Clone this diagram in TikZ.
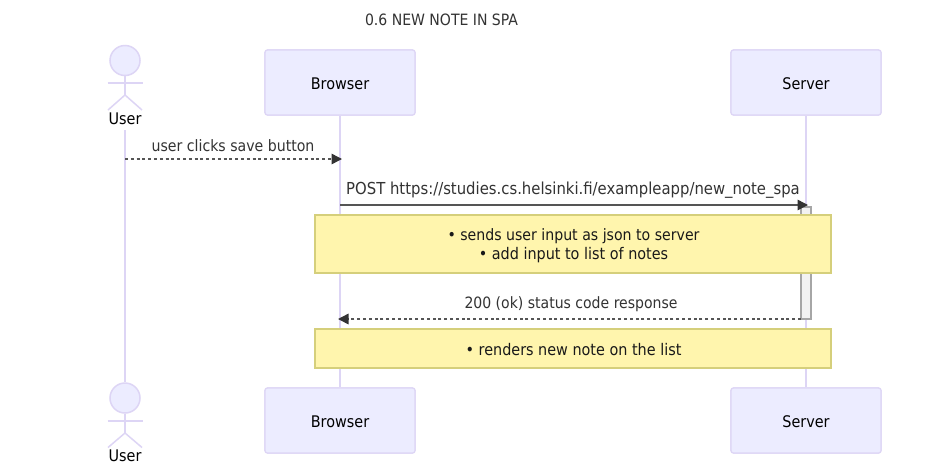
\documentclass[tikz,border=0pt]{standalone}
\usepackage{fontspec}
\setmainfont{DejaVu Sans Condensed}
\usetikzlibrary{arrows.meta}

\definecolor{actorfill}{HTML}{ECECFF}
\definecolor{actorline}{HTML}{DDD5F5}
\definecolor{notefill}{HTML}{FFF5AD}
\definecolor{noteline}{HTML}{D5CF7B}
\definecolor{msgtext}{HTML}{333333}
\definecolor{msgline}{HTML}{555555}

\tikzset{
    actorbox/.style={draw=actorline, fill=actorfill, line width=1.2pt, rounded corners=2.5pt,
        minimum width=150pt, minimum height=65pt, inner sep=0pt},
    actorlabel/.style={inner sep=0pt, text=black},
    lifeline/.style={draw=actorline, line width=1.5pt},
    stick/.style={draw=actorline, line width=1.5pt},
    head/.style={circle, draw=actorline, fill=actorfill, line width=1.5pt, minimum size=30pt, inner sep=0pt},
    notebox/.style={draw=noteline, fill=notefill, line width=1.2pt, minimum width=516pt, inner sep=0pt},
    notelabel/.style={inner sep=0pt, text=black!90},
    msglabel/.style={inner sep=0pt, text=msgtext},
    solidmsg/.style={draw=msgline, line width=1.5pt, -{Triangle[length=10.5pt,width=10.5pt,color=msgtext]}},
    dashmsg/.style={draw=msgline, line width=1.5pt, dash pattern=on 3pt off 2.8pt,
        -{Triangle[length=10.5pt,width=10.5pt,color=msgtext]}},
    activation/.style={draw=black!35, fill=black!5, line width=1.5pt, minimum width=10pt, inner sep=0pt, outer sep=0pt}
}

\begin{document}
\begin{tikzpicture}[x=1pt,y=-1pt,font=\fontsize{16}{19}\selectfont]
    \useasboundingbox (0,0) rectangle (931,464);
    \fill[white] (0,0) rectangle (931,464);

    \node[msglabel, font=\fontsize{15.6}{19}\selectfont] (title) at (441.5,19.5) {0.6 NEW NOTE IN SPA};

    % boxes
    \node[actorbox] (browsertop) at (340,82.5) {};
    \node[actorbox] (servertop) at (806,82.5) {};
    \node[actorbox] (browserbot) at (340,420.5) {};
    \node[actorbox] (serverbot) at (806,420.5) {};

    % stick figures
    \node[head] (usertophead) at (125,60.5) {};
    \coordinate (usertoparml) at (107.5,83);
    \coordinate (usertoparmr) at (143,83);
    \coordinate (usertophip) at (125,95);
    \coordinate (usertopfootl) at (108,110);
    \coordinate (usertopfootr) at (142,110);
    \node[actorlabel] (usertop) at (125,118.5) {User};

    \node[head] (userbothead) at (125,398) {};
    \coordinate (userbotarml) at (107.5,421);
    \coordinate (userbotarmr) at (143,421);
    \coordinate (userbothip) at (125,433);
    \coordinate (userbotfootl) at (108,447.5);
    \coordinate (userbotfootr) at (142,447.5);
    \node[actorlabel] (userbot) at (125,455.8) {User};

    \draw[stick] (usertophead) -- (usertophip);
    \draw[stick] (usertoparml) -- (usertoparmr);
    \draw[stick] (usertopfootl) -- (usertophip) -- (usertopfootr);
    \draw[stick] (userbothead) -- (userbothip);
    \draw[stick] (userbotarml) -- (userbotarmr);
    \draw[stick] (userbotfootl) -- (userbothip) -- (userbotfootr);

    % lifelines
    \coordinate (userstart) at (125,130);
    \draw[lifeline] (userstart) -- (userbothead);
    \draw[lifeline] (browsertop) -- (browserbot);
    \draw[lifeline] (servertop) -- (serverbot);
    \node[actorbox] at (browsertop) {};
    \node[actorbox] at (servertop) {};
    \node[actorbox] at (browserbot) {};
    \node[actorbox] at (serverbot) {};
    \node[actorlabel] (browsertoplabel) at (340,83.5) {Browser};
    \node[actorlabel] (servertoplabel) at (806,83.5) {Server};
    \node[actorlabel] (browserbotlabel) at (340,421.5) {Browser};
    \node[actorlabel] (serverbotlabel) at (806,421.5) {Server};

    % activation
    \node[activation, minimum height=112pt] (active) at (806,263) {};

    % messages
    \coordinate (m1from) at (125,159);
    \coordinate (m1to) at (342,159);
    \coordinate (m2from) at (340,205);
    \coordinate (m2to) at (808,205);
    \coordinate (m3to) at (338,319);
    \node[msglabel, font=\fontsize{15.7}{19}\selectfont] (m1label) at (233,146) {user clicks save button};
    \node[msglabel, font=\fontsize{16.5}{19}\selectfont] (m2label) at (573,190.5) {POST https://studies.cs.helsinki.fi/exampleapp/new\_note\_spa};
    \node[msglabel, font=\fontsize{15.6}{19}\selectfont] (m3label) at (571,304.5) {200 (ok) status code response};
    \draw[dashmsg] (m1from) -- (m1to);
    \draw[solidmsg] (m2from) -- (m2to);
    \draw[dashmsg] (active.south west) -- (m3to);

    % notes
    \node[notebox, minimum height=58pt] (note1) at (573,244) {};
    \node[notebox, minimum height=39pt] (note2) at (573,348.5) {};
    \node[notelabel, font=\fontsize{15.7}{19}\selectfont] (note1a) at (573.5,236) {• sends user input as json to server};
    \node[notelabel] (note1b) at (573.5,255) {• add input to list of notes};
    \node[notelabel] (note2a) at (573.5,349.5) {• renders new note on the list};
\end{tikzpicture}
\end{document}
